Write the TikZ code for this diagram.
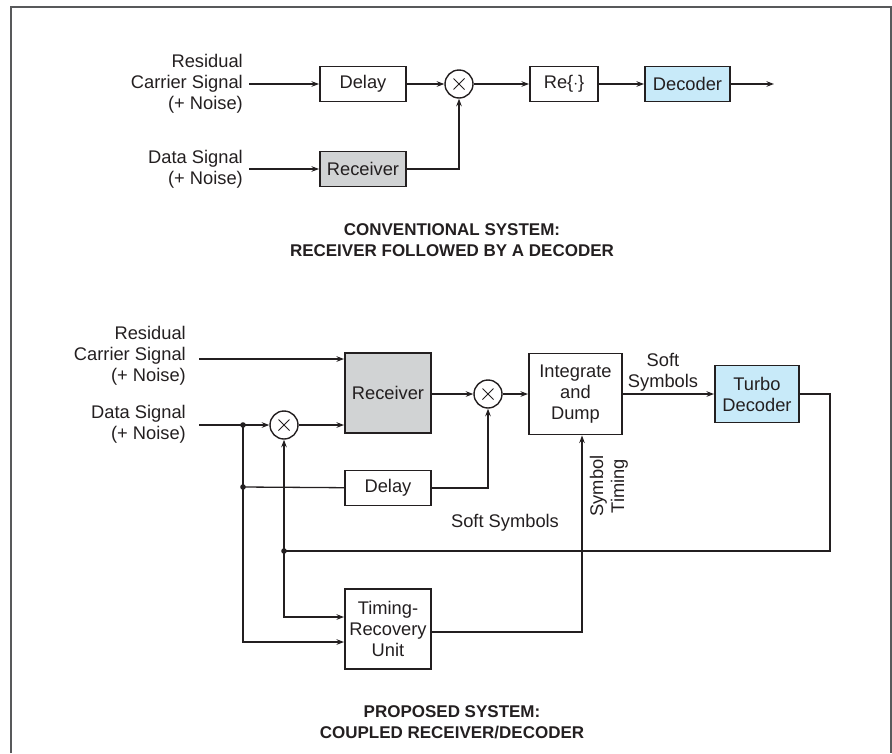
\documentclass[tikz,border=0pt]{standalone}
\usepackage{fontspec}
\setmainfont{Liberation Sans}
\usetikzlibrary{arrows.meta}
\definecolor{ink}{HTML}{231F20}
\definecolor{rxgray}{HTML}{D1D3D4}
\definecolor{decblue}{HTML}{C8EAF9}
\definecolor{framegray}{HTML}{58595B}
\begin{document}
\begin{tikzpicture}[x=1pt,y=-1pt,>={Stealth[length=7.5pt,width=5.5pt]},ink,
  font=\fontsize{18.3}{21}\selectfont,
  blk/.style={draw,line width=1.9pt,inner sep=0pt,align=center},
  mult/.style={circle,draw,line width=1.4pt,minimum size=28pt,inner sep=0pt,
    path picture={\draw[line width=0.9pt] (path picture bounding box.center)
      +(-5.5,-5.5) -- +(5.5,5.5) +(-5.5,5.5) -- +(5.5,-5.5);}},
  sig/.style={line width=1.3pt},
  lbl/.style={align=right,anchor=east,inner sep=0pt},
  ttl/.style={align=center,inner sep=0pt,font=\bfseries\fontsize{17}{21}\selectfont}]
\useasboundingbox (0,0) rectangle (892,753);
\draw[framegray,line width=1.6pt] (11,753) -- (11,7) -- (891,7) -- (891,753);

% conventional system
\node[lbl] (resA) at (243,84) {Residual\\Carrier Signal\\(+ Noise)};
\node[lbl] (datA) at (243,169) {Data Signal\\(+ Noise)};
\node[blk,minimum width=86,minimum height=35] (delayA) at (363,84) {Delay};
\node[mult] (multA) at (459,84) {};
\node[blk,minimum width=68,minimum height=35] (reA) at (564,84) {Re\{$\cdot$\}};
\node[blk,fill=decblue,minimum width=85,minimum height=35] (decA) at (687.5,84) {Decoder};
\node[blk,fill=rxgray,minimum width=86,minimum height=35] (rxA) at (363,169) {Receiver};
\path (249,84) coordinate (inA)
  (249,169) coordinate (inB)
  (774,84) coordinate (outA);
\draw[sig,->] (inA) -- (delayA);
\draw[sig,->] (delayA) -- (multA);
\draw[sig,->] (multA) -- (reA);
\draw[sig,->] (reA) -- (decA);
\draw[sig,->] (decA) -- (outA);
\draw[sig,->] (inB) -- (rxA);
\draw[sig,->] (rxA) -| (multA);
\node[ttl] (ttlA) at (452,240.5) {CONVENTIONAL SYSTEM:\\RECEIVER FOLLOWED BY A DECODER};

% proposed system
\node[lbl] (resB) at (186,356) {Residual\\Carrier Signal\\(+ Noise)};
\node[lbl] (datB) at (186,424.5) {Data Signal\\(+ Noise)};
\node[blk,fill=rxgray,minimum width=86,minimum height=80] (rxB) at (388,393) {Receiver};
\node[mult] (multB) at (284,425) {};
\node[mult] (multC) at (488,394) {};
\node[blk,minimum width=93,minimum height=81] (intdump) at (575.5,394) {Integrate\\and\\Dump};
\node[blk,fill=decblue,minimum width=84,minimum height=57] (turbo) at (757,394) {Turbo\\Decoder};
\node[blk,minimum width=86,minimum height=35] (delayB) at (388,488) {Delay};
\node[blk,minimum width=86,minimum height=80] (timrec) at (388,629) {Timing-\\Recovery\\Unit};
\node[align=center,inner sep=0pt] (softA) at (663,372) {Soft\\Symbols};
\node[inner sep=0pt] (softB) at (505,523) {Soft Symbols};
\node[rotate=90,align=center,inner sep=0pt] (symt) at (609,486) {Symbol\\Timing};
\path (199,359) coordinate (inC)
  (199,425) coordinate (inD)
  (243,425) coordinate (jA)
  (243,487) coordinate (jB)
  (284,551) coordinate (jC)
  (830,394) coordinate (fbA)
  (830,551) coordinate (fbB)
  (582,632) coordinate (stA);
\draw[sig,->] (inC) -- (inC -| rxB.west);
\draw[sig,->] (inD) -- (multB);
\draw[sig,->] (multB) -- (multB -| rxB.west);
\draw[sig,->] (rxB.east |- multC) -- (multC);
\draw[sig,->] (multC) -- (intdump);
\draw[sig,->] (intdump) -- (turbo);
\draw[sig] (turbo.east) -- (fbA) -- (fbB) -- (jC);
\draw[sig,->] (jC) -- (multB);
\draw[sig,->] (jC) |- ([yshift=12pt]timrec.west);
\draw[sig,->] (jA) |- ([yshift=-13pt]timrec.west);
\draw[sig] (jB) -- (delayB);
\draw[sig,->] (delayB) -| (multC);
\draw[sig,->] (timrec.east |- stA) -- (stA) -- (stA |- intdump.south);
\foreach \p in {jA,jB,jC}
  \fill (\p) circle (2.8);
\node[ttl] (ttlB) at (452,722) {PROPOSED SYSTEM:\\COUPLED RECEIVER/DECODER};
\end{tikzpicture}
\end{document}
